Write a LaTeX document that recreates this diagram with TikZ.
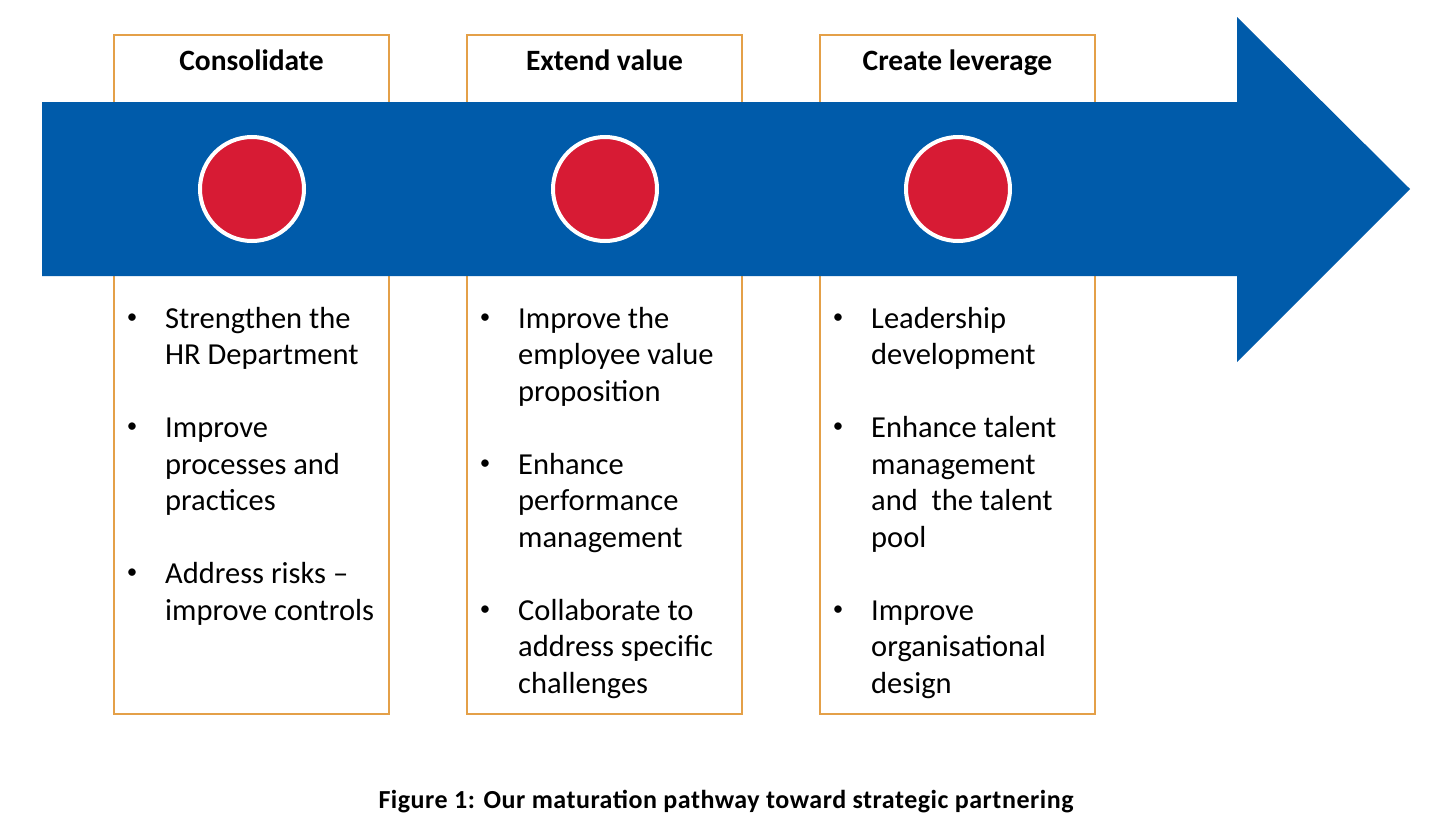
\documentclass[tikz,border=0pt]{standalone}
\usepackage{fontspec}
\setmainfont{Carlito}
\definecolor{arrowblue}{RGB}{0,91,170}
\definecolor{dotred}{RGB}{215,27,52}
\definecolor{boxorange}{RGB}{228,160,72}
\begin{document}
\begin{tikzpicture}[x=1pt,y=-1pt,
  stagebox/.style={draw=boxorange,line width=1.5pt,fill=white,minimum width=275pt,minimum height=679pt,inner sep=0pt},
  dot/.style={circle,fill=dotred,draw=white,line width=4pt,minimum size=104pt,inner sep=0pt},
  heading/.style={anchor=base,inner sep=0pt,font=\fontsize{29.5}{35}\selectfont\bfseries},
  itemtext/.style={anchor=base west,inner sep=0pt,font=\fontsize{30.5}{36.5}\selectfont},
  bul/.style={anchor=base,inner sep=0pt,yshift=5pt,font=\fontsize{21}{25}\selectfont},
  caption/.style={anchor=base,inner sep=0pt,font=\fontsize{26}{30}\selectfont\bfseries\addfontfeature{LetterSpace=2}}]
\useasboundingbox (0,0) rectangle (1444,838);
\fill[white] (0,0) rectangle (1444,838);
% boxes
\node[stagebox] (box1) at (251.5,374.5) {};
\node[stagebox] (box2) at (604.5,374.5) {};
\node[stagebox] (box3) at (957.5,374.5) {};
% arrow
\fill[arrowblue] (42,102) -- (1237,102) -- (1237,17) -- (1410,189) -- (1237,362) -- (1237,276) -- (42,276) -- cycle;
% dots
\node[dot] (c1) at (252,189) {};
\node[dot] (c2) at (605,189) {};
\node[dot] (c3) at (958,189) {};
% headings
\node[heading] (h1) at (251.5,70) {Consolidate};
\node[heading] (h2) at (604.5,70) {Extend value};
\node[heading] (h3) at (957.5,70) {Create leverage};
% box 1
\node[bul] (b1a) at (132,328) {•};
\node[bul] (b1b) at (132,437.5) {•};
\node[bul] (b1c) at (132,583.5) {•};
\node[itemtext] (t1a) at (165,328) {Strengthen the};
\node[itemtext] (t1b) at (165,364.5) {HR Department};
\node[itemtext] (t1c) at (165,437.5) {Improve};
\node[itemtext] (t1d) at (165,474) {processes and};
\node[itemtext] (t1e) at (165,510.5) {practices};
\node[itemtext] (t1f) at (165,583.5) {Address risks –};
\node[itemtext] (t1g) at (165,620) {improve controls};
% box 2
\node[bul] (b2a) at (485,328) {•};
\node[bul] (b2b) at (485,474) {•};
\node[bul] (b2c) at (485,620) {•};
\node[itemtext] (t2a) at (518,328) {Improve the};
\node[itemtext] (t2b) at (518,364.5) {employee value};
\node[itemtext] (t2c) at (518,401) {proposition};
\node[itemtext] (t2d) at (518,474) {Enhance};
\node[itemtext] (t2e) at (518,510.5) {performance};
\node[itemtext] (t2f) at (518,547) {management};
\node[itemtext] (t2g) at (518,620) {Collaborate to};
\node[itemtext] (t2h) at (518,656.5) {address specific};
\node[itemtext] (t2i) at (518,693) {challenges};
% box 3
\node[bul] (b3a) at (838,328) {•};
\node[bul] (b3b) at (838,437.5) {•};
\node[bul] (b3c) at (838,620) {•};
\node[itemtext] (t3a) at (871,328) {Leadership};
\node[itemtext] (t3b) at (871,364.5) {development};
\node[itemtext] (t3c) at (871,437.5) {Enhance talent};
\node[itemtext] (t3d) at (871,474) {management};
\node[itemtext] (t3e) at (871,510.5) {and\ \ the talent};
\node[itemtext] (t3f) at (871,547) {pool};
\node[itemtext] (t3g) at (871,620) {Improve};
\node[itemtext] (t3h) at (871,656.5) {organisational};
\node[itemtext] (t3i) at (871,693) {design};
% caption
\node[caption] (cap) at (726,808) {Figure 1: Our maturation pathway toward strategic partnering};
\end{tikzpicture}
\end{document}
